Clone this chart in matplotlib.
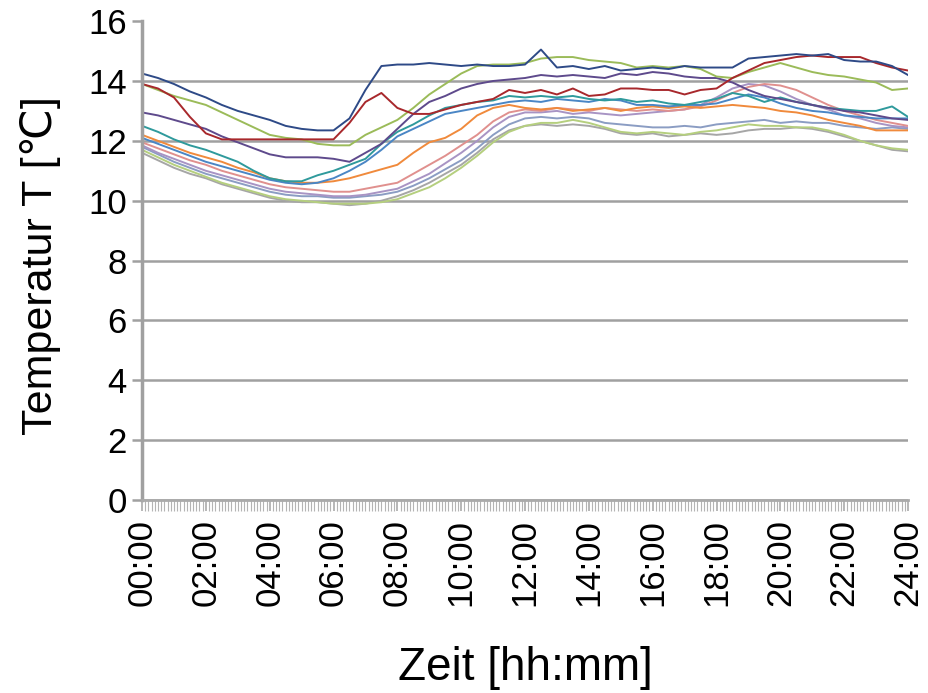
import numpy as np
import matplotlib
matplotlib.use("Agg")
import matplotlib.pyplot as plt
from matplotlib.ticker import MultipleLocator, FuncFormatter

plt.rcParams["font.family"] = ["Liberation Sans", "DejaVu Sans"]

# time of day in hours, one reading every 30 minutes
hours = np.arange(0, 24.01, 0.5)

dark_blue = [14.25, 14.1, 13.9, 13.65, 13.45, 13.2, 13.0, 12.85, 12.7, 12.5,
             12.4, 12.35, 12.35, 12.75, 13.7, 14.5, 14.55, 14.55, 14.6, 14.55,
             14.5, 14.55, 14.5, 14.5, 14.55, 15.05, 14.45, 14.5, 14.4, 14.5,
             14.35, 14.4, 14.45, 14.4, 14.5, 14.45, 14.45, 14.45, 14.75, 14.8,
             14.85, 14.9, 14.85, 14.9, 14.7, 14.65, 14.65, 14.5, 14.2]
dark_red = [13.9, 13.75, 13.45, 12.8, 12.25, 12.05, 12.05, 12.05, 12.05, 12.05,
            12.05, 12.05, 12.05, 12.6, 13.3, 13.6, 13.1, 12.9, 12.9, 13.05,
            13.2, 13.3, 13.4, 13.7, 13.6, 13.7, 13.55, 13.75, 13.5, 13.55,
            13.75, 13.75, 13.7, 13.7, 13.55, 13.7, 13.75, 14.1, 14.35, 14.6,
            14.7, 14.8, 14.85, 14.8, 14.8, 14.8, 14.6, 14.45, 14.35]
olive = [13.9, 13.7, 13.5, 13.35, 13.2, 12.95, 12.7, 12.45, 12.2, 12.1,
         12.05, 11.9, 11.85, 11.85, 12.2, 12.45, 12.7, 13.1, 13.55, 13.9,
         14.25, 14.5, 14.55, 14.55, 14.6, 14.75, 14.8, 14.8, 14.7, 14.65,
         14.6, 14.45, 14.5, 14.45, 14.5, 14.4, 14.15, 14.1, 14.3, 14.45,
         14.6, 14.45, 14.3, 14.2, 14.15, 14.05, 13.95, 13.7, 13.75]
purple = [12.95, 12.85, 12.7, 12.55, 12.4, 12.15, 11.95, 11.75, 11.55, 11.45,
          11.45, 11.45, 11.4, 11.3, 11.6, 11.9, 12.4, 12.9, 13.3, 13.5,
          13.75, 13.9, 14.0, 14.05, 14.1, 14.2, 14.15, 14.2, 14.15, 14.1,
          14.25, 14.2, 14.3, 14.25, 14.15, 14.1, 14.1, 13.95, 13.7, 13.5,
          13.4, 13.3, 13.2, 13.1, 13.0, 12.95, 12.85, 12.75, 12.7]
teal = [12.5, 12.3, 12.05, 11.85, 11.7, 11.5, 11.3, 11.0, 10.75, 10.65,
        10.65, 10.85, 11.0, 11.2, 11.4, 11.9, 12.3, 12.55, 12.85, 13.1,
        13.2, 13.3, 13.35, 13.5, 13.45, 13.5, 13.45, 13.5, 13.4, 13.35,
        13.4, 13.3, 13.35, 13.25, 13.2, 13.3, 13.4, 13.6, 13.5, 13.3,
        13.45, 13.3, 13.2, 13.1, 13.05, 13.0, 13.0, 13.15, 12.8]
blue = [12.1, 11.9, 11.7, 11.5, 11.3, 11.15, 11.0, 10.85, 10.7, 10.6,
        10.55, 10.6, 10.75, 11.0, 11.3, 11.7, 12.15, 12.4, 12.65, 12.9,
        13.0, 13.1, 13.2, 13.3, 13.35, 13.3, 13.4, 13.35, 13.3, 13.4,
        13.35, 13.2, 13.2, 13.15, 13.2, 13.2, 13.25, 13.4, 13.55, 13.45,
        13.25, 13.1, 13.0, 12.95, 12.85, 12.8, 12.75, 12.75, 12.75]
orange = [12.2, 12.0, 11.8, 11.6, 11.45, 11.3, 11.1, 10.95, 10.75, 10.65,
          10.6, 10.6, 10.65, 10.75, 10.9, 11.05, 11.2, 11.6, 11.95, 12.1,
          12.4, 12.85, 13.1, 13.2, 13.1, 13.05, 13.1, 13.0, 13.05, 13.1,
          13.0, 13.1, 13.15, 13.1, 13.15, 13.1, 13.15, 13.2, 13.15, 13.1,
          13.0, 12.95, 12.85, 12.7, 12.6, 12.5, 12.35, 12.35, 12.35]
pink = [11.95, 11.75, 11.55, 11.35, 11.2, 11.0, 10.85, 10.7, 10.55, 10.45,
        10.4, 10.35, 10.3, 10.3, 10.4, 10.5, 10.6, 10.9, 11.2, 11.5,
        11.85, 12.2, 12.65, 12.95, 13.05, 13.0, 13.1, 13.05, 13.0, 13.1,
        13.05, 13.0, 13.05, 13.0, 13.05, 13.15, 13.35, 13.6, 13.8, 13.9,
        13.85, 13.7, 13.45, 13.2, 13.0, 12.85, 12.7, 12.6, 12.5]
lilac = [11.85, 11.6, 11.4, 11.2, 11.0, 10.85, 10.7, 10.55, 10.4, 10.3,
         10.25, 10.2, 10.15, 10.15, 10.2, 10.3, 10.4, 10.65, 10.9, 11.25,
         11.6, 12.0, 12.45, 12.8, 12.95, 12.95, 13.0, 12.9, 12.95, 12.9,
         12.85, 12.9, 12.95, 13.0, 13.05, 13.2, 13.45, 13.75, 13.9, 13.85,
         13.65, 13.4, 13.2, 13.05, 12.85, 12.75, 12.6, 12.5, 12.45]
steel = [11.8, 11.55, 11.3, 11.1, 10.9, 10.75, 10.6, 10.45, 10.3, 10.2,
         10.15, 10.15, 10.1, 10.1, 10.15, 10.2, 10.3, 10.5, 10.75, 11.05,
         11.35, 11.75, 12.2, 12.55, 12.75, 12.8, 12.75, 12.8, 12.75, 12.6,
         12.55, 12.5, 12.45, 12.45, 12.5, 12.45, 12.55, 12.6, 12.65, 12.7,
         12.6, 12.65, 12.6, 12.6, 12.5, 12.45, 12.4, 12.45, 12.4]
light_green = [11.7, 11.45, 11.2, 11.0, 10.8, 10.6, 10.45, 10.3, 10.15, 10.05,
               10.0, 9.95, 9.9, 9.9, 9.9, 9.95, 10.05, 10.25, 10.45, 10.75,
               11.1, 11.5, 11.95, 12.3, 12.5, 12.6, 12.6, 12.7, 12.6, 12.45,
               12.3, 12.25, 12.3, 12.25, 12.2, 12.3, 12.35, 12.45, 12.55, 12.5,
               12.5, 12.45, 12.45, 12.35, 12.2, 12.0, 11.85, 11.75, 11.7]
gray = [11.6, 11.35, 11.1, 10.9, 10.75, 10.55, 10.4, 10.25, 10.1, 10.0,
        9.95, 9.95, 9.9, 9.85, 9.9, 10.0, 10.15, 10.35, 10.6, 10.9,
        11.2, 11.6, 12.05, 12.35, 12.5, 12.55, 12.5, 12.55, 12.5, 12.4,
        12.25, 12.2, 12.25, 12.15, 12.2, 12.25, 12.2, 12.25, 12.35, 12.4,
        12.4, 12.45, 12.4, 12.3, 12.15, 12.0, 11.85, 11.7, 11.65]

series = [
    (gray, "#A6A6A6"),
    (light_green, "#B5CF7E"),
    (steel, "#8B9DC3"),
    (lilac, "#A894C4"),
    (pink, "#E0908E"),
    (orange, "#F08A3C"),
    (blue, "#4A86C5"),
    (teal, "#2F9A9C"),
    (purple, "#5E4A8C"),
    (olive, "#9BBB59"),
    (dark_red, "#A8282C"),
    (dark_blue, "#2E4A87"),
]

fig = plt.figure(figsize=(9.29, 6.93), dpi=100)
ax = fig.add_axes([0.1529, 0.2785, 0.8245, 0.691])

for values, color in series:
    ax.plot(hours, values, color=color, lw=1.4)

ax.set_xlim(0, 24)
ax.set_ylim(0, 16)
ax.set_yticks(range(0, 17, 2))
ax.set_xticks(range(0, 25, 2))
ax.xaxis.set_minor_locator(MultipleLocator(0.1))
ax.xaxis.set_major_formatter(FuncFormatter(lambda v, _: f"{int(round(v)):02d}:00"))

grid_gray = "#A0A0A0"
ax.grid(axis="y", color=grid_gray, lw=1.8)
ax.set_axisbelow(True)
for line in ax.get_ygridlines()[-1:]:
    line.set_visible(False)

for side in ("top", "right"):
    ax.spines[side].set_visible(False)
ax.spines["left"].set_color(grid_gray)
ax.spines["left"].set_linewidth(2.5)
ax.spines["bottom"].set_color("#AAAAAA")
ax.spines["bottom"].set_linewidth(2)

ax.tick_params(axis="y", direction="out", length=7, width=1.8, color=grid_gray,
               labelsize=25, pad=4)
ax.tick_params(axis="x", which="major", direction="out", length=8, width=1.2,
               color="#AAAAAA", labelsize=25, pad=6, labelrotation=90)
ax.tick_params(axis="x", which="minor", direction="out", length=8, width=0.8,
               color="#B4B4B4")

ax.set_ylabel("Temperatur T [℃]", fontsize=31, va="center")
ax.yaxis.set_label_coords(-0.133, 0.49)
ax.set_xlabel("Zeit [hh:mm]", fontsize=33, va="center")
ax.xaxis.set_label_coords(0.5, -0.35)

fig.savefig("out.png", dpi=100)
